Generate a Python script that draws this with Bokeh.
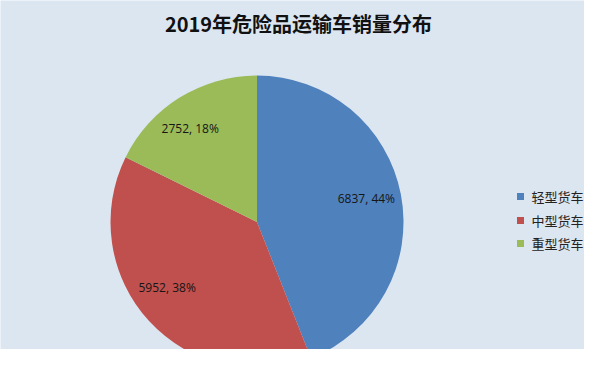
import numpy as np
from bokeh.plotting import figure
from bokeh.models import Range1d, ColumnDataSource
from bokeh.core.properties import value
from bokeh.embed import file_html
from bokeh.resources import INLINE

# ---- data ----
title = "2019年危险品运输车销量分布"
categories = ["轻型货车", "中型货车", "重型货车"]
sales = [6837, 5952, 2752]
colors = ["#4f81bd", "#c0504d", "#9bbb59"]

# ---- layout (pixel-like data coords, y up) ----
W, H = 584, 349
label_dx = [0, -8, -8]     # label nudges (px), layout only
label_dy = [2.5, 10, -1]


def sx(x):
    return x


def sy(y):
    return H - y


cx, cy, r = sx(256.5), sy(221.5), 146.5

vals = np.array(sales, dtype=float)
frac = vals / vals.sum()
cum = np.concatenate([[0], np.cumsum(frac)])
start = np.pi / 2 - cum[:-1] * 2 * np.pi
end = np.pi / 2 - cum[1:] * 2 * np.pi
mid = (start + end) / 2
pct = [f"{int(round(f * 100))}%" for f in frac]
labels = [f"{v}, {p}" for v, p in zip(sales, pct)]
lab_r = 0.76 * r

src = ColumnDataSource(dict(
    cat=categories, val=sales, color=colors,
    start=start, end=end,
    lx=cx + lab_r * np.cos(mid) + np.array(label_dx),
    ly=cy + lab_r * np.sin(mid) + np.array(label_dy),
    label=labels,
))

p = figure(width=W, height=H, min_border=0,
           x_range=Range1d(0, W), y_range=Range1d(0, H),
           x_axis_type=None, y_axis_type=None,
           toolbar_location=None, output_backend="svg")
p.grid.visible = False
bg = "#dce6f1"
p.background_fill_color = bg
p.border_fill_color = bg
p.outline_line_color = None

p.wedge(x=cx, y=cy, radius=r, start_angle="start", end_angle="end",
        direction="clock", fill_color="color", line_color=None, source=src)

p.text(x="lx", y="ly", text="label", source=src,
       text_font=value("Open Sans"), text_font_size="12px",
       text_color="#151515", text_align="center", text_baseline="middle")

# title
p.text(x=[sx(298)], y=[sy(23)], text=[title],
       text_font=value("Noto Sans CJK SC"), text_font_style="bold",
       text_font_size="20px", text_color="#111111",
       text_align="center", text_baseline="middle")

# legend
leg_y = [sy(196), sy(220), sy(243)]
p.scatter(x=[sx(520)] * 3, y=leg_y, marker="square", size=7,
          fill_color=colors, line_color=None)
p.text(x=[sx(531)] * 3, y=leg_y, text=categories,
       text_font=value("Noto Sans CJK SC"), text_font_size="13px",
       text_color="#222222", text_align="left", text_baseline="middle")

open("out.html", "w").write(file_html(p, INLINE))
